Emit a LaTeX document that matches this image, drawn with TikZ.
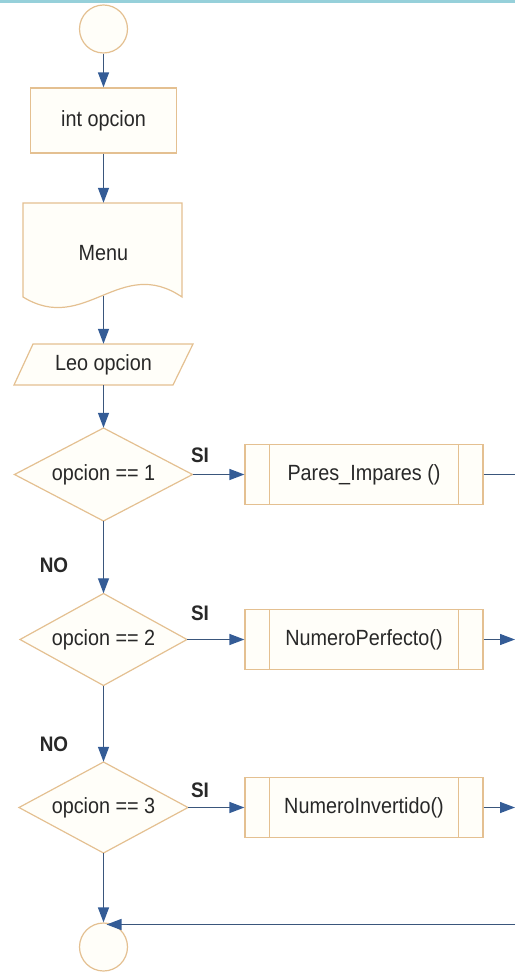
\documentclass[tikz,border=0pt]{standalone}
\usepackage{fontspec}
\setmainfont{Liberation Sans}[FakeStretch=0.9]
\usetikzlibrary{arrows.meta}
\definecolor{nodeborder}{RGB}{228,192,145}
\definecolor{nodefill}{RGB}{255,254,249}
\definecolor{flow}{RGB}{58,86,124}
\definecolor{headfill}{RGB}{52,92,150}
\definecolor{topbar}{RGB}{150,208,218}
\definecolor{txt}{RGB}{40,40,40}
\begin{document}
\begin{tikzpicture}[x=1pt,y=-1pt,
  every node/.style={font=\fontsize{22}{26}\selectfont, text=txt},
  shapeline/.style={draw=nodeborder, line width=1.2pt, fill=nodefill},
  terminal/.style={circle, shapeline, minimum size=48pt, inner sep=0pt},
  procbox/.style={rectangle, shapeline, inner sep=0pt},
  anchorbox/.style={rectangle, draw=none, inner sep=0pt},
  flowline/.style={draw=flow, line width=1.3pt},
  flowarrow/.style={flowline, -{Triangle[length=15pt,width=11pt,fill=headfill,color=headfill]}},
  lbl/.style={font=\bfseries\fontsize{21}{25}\selectfont, text=txt}
]
\useasboundingbox (0,0) rectangle (515,973);
\fill[topbar] (0,0) rectangle (515,3);

% start
\node[terminal] (start) at (103.5,29) {};
% int opcion
\node[procbox, minimum width=146pt, minimum height=65pt] (intop) at (103.5,120.5) {int opcion};
% Menu (document shape)
\path[shapeline] (23,203) -- (182,203) -- (182,297) .. controls (120,255) and (85,335) .. (23,297) -- cycle;
\node[anchorbox, minimum width=159pt, minimum height=100pt] (menu) at (103.5,253) {Menu};
\coordinate (menuwave) at (103.5,295.5);
% Leo opcion (parallelogram)
\path[shapeline] (33,344) -- (193,344) -- (173,385) -- (14,385) -- cycle;
\node[anchorbox, minimum width=140pt, minimum height=41pt] (leo) at (103.5,364.5) {Leo opcion};

% decisions
\path[shapeline] (103.5,428) -- (192.5,474.5) -- (103.5,521) -- (14.5,474.5) -- cycle;
\node[anchorbox, minimum width=178pt, minimum height=93pt] (d1) at (103.5,474.5) {opcion == 1};
\path[shapeline] (103.5,593.5) -- (187,639.5) -- (103.5,685.5) -- (20,639.5) -- cycle;
\node[anchorbox, minimum width=167pt, minimum height=92pt] (d2) at (103.5,639.5) {opcion == 2};
\path[shapeline] (103.5,762) -- (188,807.5) -- (103.5,853) -- (19,807.5) -- cycle;
\node[anchorbox, minimum width=169pt, minimum height=91pt] (d3) at (103.5,807.5) {opcion == 3};

% subprocesses
\node[procbox, minimum width=238pt, minimum height=60pt] (p1) at (364,474.5) {Pares\_Impares ()};
\node[procbox, minimum width=238pt, minimum height=60pt] (p2) at (364,639.5) {NumeroPerfecto()};
\node[procbox, minimum width=238pt, minimum height=60pt] (p3) at (364,807.5) {NumeroInvertido()};
\foreach \p in {p1,p2,p3}{
  \draw[draw=nodeborder, line width=1.2pt] ([xshift=25pt]\p.north west) -- ([xshift=25pt]\p.south west);
  \draw[draw=nodeborder, line width=1.2pt] ([xshift=-25pt]\p.north east) -- ([xshift=-25pt]\p.south east);
}

% end
\node[terminal] (end) at (103.5,947) {};

% right edge coordinates
\coordinate (r1) at (515,474.5);
\coordinate (r2) at (515,639.5);
\coordinate (r3) at (515,807.5);
\coordinate (r4) at (515,924.5);
\coordinate (endtip) at (106.5,924.5);

% labels
\node[lbl] (si1) at (200,455) {SI};
\node[lbl] (si2) at (200,613) {SI};
\node[lbl] (si3) at (200,790) {SI};
\node[lbl] (no1) at (54,565) {NO};
\node[lbl] (no2) at (54,744) {NO};

% connectors
\draw[flowarrow] (start) -- (intop);
\draw[flowarrow] (intop) -- (menu.north);
\draw[flowarrow] (menuwave) -- (leo.north);
\draw[flowarrow] (leo.south) -- (d1.north);
\draw[flowarrow] (d1.east) -- (p1.west);
\draw[flowline] (p1.east) -- (r1);
\draw[flowarrow] (d1.south) -- (d2.north);
\draw[flowarrow] (d2.east) -- (p2.west);
\draw[flowarrow] (p2.east) -- (r2);
\draw[flowarrow] (d2.south) -- (d3.north);
\draw[flowarrow] (d3.east) -- (p3.west);
\draw[flowarrow] (p3.east) -- (r3);
\draw[flowarrow] (d3.south) -- (end);
\draw[flowarrow] (r4) -- (endtip);
\end{tikzpicture}
\end{document}
